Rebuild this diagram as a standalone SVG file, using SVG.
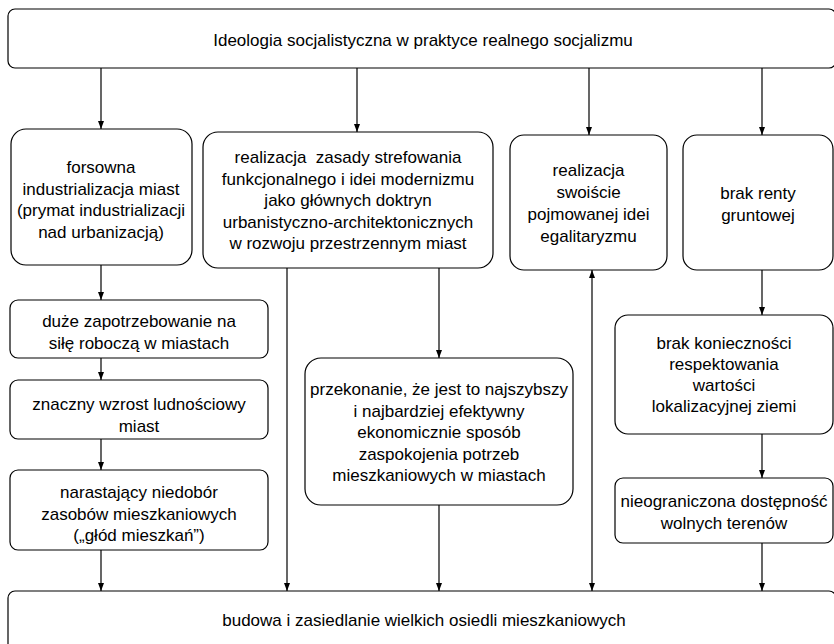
<svg xmlns="http://www.w3.org/2000/svg" width="834" height="644" viewBox="0 0 834 644">
<defs>
<style>
.box{fill:#fff;stroke:#000;stroke-width:1.2}
.t{font-family:"Liberation Sans",Arial,sans-serif;font-size:17px;text-anchor:middle;fill:#000}
.c{fill:none;stroke:#000;stroke-width:1.2}
</style>
<marker id="ah" viewBox="0 0 8 6" refX="8" refY="3" markerWidth="8" markerHeight="6" markerUnits="userSpaceOnUse" orient="auto-start-reverse">
<path d="M0,0 L8,3 L0,6 z" fill="#000"/>
</marker>
</defs>
<rect width="834" height="644" fill="#fff"/>

<g id="connectors">
<line class="c" x1="101" y1="68" x2="101" y2="129" marker-end="url(#ah)"/>
<line class="c" x1="357" y1="68" x2="357" y2="132" marker-end="url(#ah)"/>
<line class="c" x1="589" y1="68" x2="589" y2="135" marker-end="url(#ah)"/>
<line class="c" x1="762" y1="68" x2="762" y2="135" marker-end="url(#ah)"/>
<line class="c" x1="101" y1="265" x2="101" y2="300" marker-end="url(#ah)"/>
<line class="c" x1="101" y1="358" x2="101" y2="380" marker-end="url(#ah)"/>
<line class="c" x1="101" y1="439" x2="101" y2="470" marker-end="url(#ah)"/>
<line class="c" x1="101" y1="550" x2="101" y2="591" marker-end="url(#ah)"/>
<line class="c" x1="287" y1="268" x2="287" y2="591" marker-end="url(#ah)"/>
<line class="c" x1="439" y1="268" x2="439" y2="358" marker-end="url(#ah)"/>
<line class="c" x1="439" y1="505" x2="439" y2="591" marker-end="url(#ah)"/>
<line class="c" x1="592" y1="270" x2="592" y2="591" marker-start="url(#ah)" marker-end="url(#ah)"/>
<line class="c" x1="762" y1="270" x2="762" y2="315" marker-end="url(#ah)"/>
<line class="c" x1="762" y1="434" x2="762" y2="478" marker-end="url(#ah)"/>
<line class="c" x1="762" y1="543" x2="762" y2="591" marker-end="url(#ah)"/>
</g>

<g id="top">
<rect class="box" x="8" y="9" width="828" height="59" rx="7"/>
<text class="t" x="423" y="46">Ideologia socjalistyczna w praktyce realnego socjalizmu</text>
</g>

<g id="nodeA">
<rect class="box" x="11" y="129" width="181" height="136" rx="15"/>
<text class="t" x="101" y="173">forsowna</text>
<text class="t" x="101" y="194.5">industrializacja miast</text>
<text class="t" x="101" y="216">(prymat industrializacji</text>
<text class="t" x="101" y="237.5">nad urbanizacją)</text>
</g>

<g id="nodeB">
<rect class="box" x="203" y="132" width="290" height="136" rx="15"/>
<text class="t" x="348" y="163" xml:space="preserve">realizacja  zasady strefowania</text>
<text class="t" x="348" y="184.5">funkcjonalnego i idei modernizmu</text>
<text class="t" x="348" y="206">jako głównych doktryn</text>
<text class="t" x="348" y="227.5">urbanistyczno-architektonicznych</text>
<text class="t" x="348" y="249">w rozwoju przestrzennym miast</text>
</g>

<g id="nodeC">
<rect class="box" x="510" y="135" width="157" height="135" rx="14"/>
<text class="t" x="588.5" y="176">realizacja</text>
<text class="t" x="588.5" y="198">swoiście</text>
<text class="t" x="588.5" y="220">pojmowanej idei</text>
<text class="t" x="588.5" y="242">egalitaryzmu</text>
</g>

<g id="nodeD">
<rect class="box" x="683" y="135" width="150" height="135" rx="14"/>
<text class="t" x="758" y="199">brak renty</text>
<text class="t" x="758" y="221">gruntowej</text>
</g>

<g id="nodeL1">
<rect class="box" x="10" y="300" width="258" height="58" rx="8"/>
<text class="t" x="139" y="327">duże zapotrzebowanie na</text>
<text class="t" x="139" y="348.5">siłę roboczą w miastach</text>
</g>

<g id="nodeL2">
<rect class="box" x="10" y="380" width="258" height="59" rx="8"/>
<text class="t" x="139" y="410">znaczny wzrost ludnościowy</text>
<text class="t" x="139" y="431.5">miast</text>
</g>

<g id="nodeL3">
<rect class="box" x="10" y="470" width="258" height="80" rx="8"/>
<text class="t" x="139" y="498">narastający niedobór</text>
<text class="t" x="139" y="519.5">zasobów mieszkaniowych</text>
<text class="t" x="139" y="541">(„głód mieszkań”)</text>
</g>

<g id="nodeE">
<rect class="box" x="305" y="358" width="268" height="147" rx="16"/>
<text class="t" x="439" y="395">przekonanie, że jest to najszybszy</text>
<text class="t" x="439" y="416.5">i najbardziej efektywny</text>
<text class="t" x="439" y="438">ekonomicznie sposób</text>
<text class="t" x="439" y="459.5">zaspokojenia potrzeb</text>
<text class="t" x="439" y="481">mieszkaniowych w miastach</text>
</g>

<g id="nodeF">
<rect class="box" x="615" y="315" width="218" height="119" rx="13"/>
<text class="t" x="724" y="349">brak konieczności</text>
<text class="t" x="724" y="370">respektowania</text>
<text class="t" x="724" y="391">wartości</text>
<text class="t" x="724" y="412">lokalizacyjnej ziemi</text>
</g>

<g id="nodeG">
<rect class="box" x="615" y="478" width="218" height="65" rx="8"/>
<text class="t" x="724" y="507">nieograniczona dostępność</text>
<text class="t" x="724" y="528.5">wolnych terenów</text>
</g>

<g id="bottom">
<rect class="box" x="8" y="591" width="828" height="60" rx="7"/>
<text class="t" x="424" y="626">budowa i zasiedlanie wielkich osiedli mieszkaniowych</text>
</g>
</svg>
